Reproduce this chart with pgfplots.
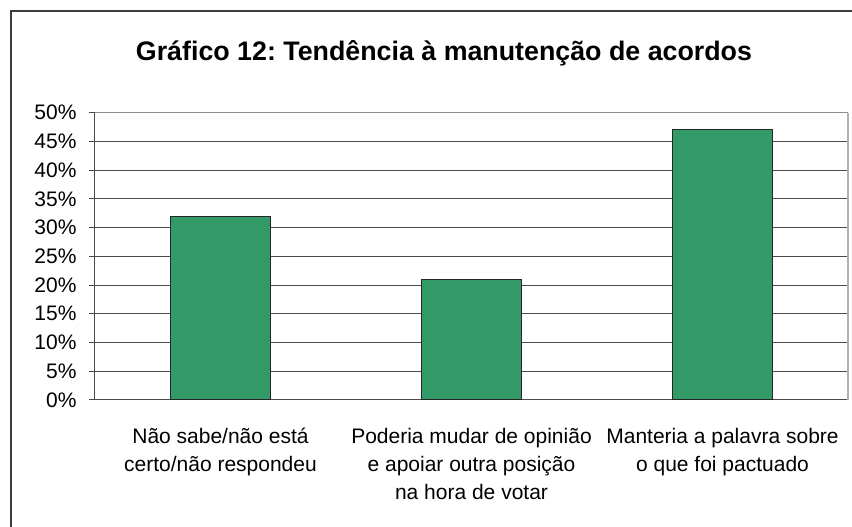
\documentclass[border=0pt]{standalone}
\usepackage{pgfplots}
\pgfplotsset{compat=1.18}
\usepackage{fontspec}
\setmainfont{Liberation Sans}
\definecolor{bargreen}{HTML}{339966}
\definecolor{gridgray}{HTML}{4A4A4A}
\definecolor{framegray}{HTML}{3C3C3C}
\frenchspacing
\begin{document}
\begin{tikzpicture}[x=1pt,y=1pt]
\useasboundingbox (0,0) rectangle (852,527);
\draw[line width=1.6pt, framegray] (11,-2) -- (11,516) -- (854,516);
\node[font=\fontsize{26.8}{32}\selectfont\bfseries, anchor=center] at (444,474) {Gráfico 12: Tendência à manutenção de acordos};
\begin{axis}[
  at={(95pt,127pt)}, anchor=south west,
  scale only axis, width=753pt, height=287.3pt,
  xmin=-0.5, xmax=2.5, ymin=0, ymax=50,
  axis lines=left, axis line style={-, gridgray, line width=1pt},
  tick align=outside,
  ytick={0,5,...,50},
  yticklabels={0\%,5\%,10\%,15\%,20\%,25\%,30\%,35\%,40\%,45\%,50\%},
  yticklabel style={font=\fontsize{21}{25}\selectfont, xshift=-9pt},
  ymajorgrids, grid style={gridgray, line width=1pt},
  ytick style={gridgray, line width=1pt},
  major tick length=6pt,
  xtick={0,1,2},
  xtick style={draw=none},
  xticklabels={Não sabe/não está\\certo/não respondeu, Poderia mudar de opinião\\e apoiar outra posição\\na hora de votar, Manteria a palavra sobre\\o que foi pactuado},
  xticklabel style={font=\fontsize{21}{28}\selectfont, align=center, yshift=-19pt},
  extra x ticks={-0.5,0.5,1.5,2.5},
  extra x tick labels={},
  extra x tick style={tick style={gridgray, line width=1pt}, major tick length=6pt},
  ybar, bar width=0.4,
  clip=false,
]
\addplot[fill=bargreen, draw=black!85, line width=1pt] coordinates {(0,32) (1,21) (2,47)};
\draw[black!30, line width=1.2pt] (rel axis cs:1,0) -- (rel axis cs:1,1);
\draw[black!45, line width=1pt] (rel axis cs:0,1) -- (rel axis cs:1,1);
\end{axis}
\end{tikzpicture}
\end{document}
